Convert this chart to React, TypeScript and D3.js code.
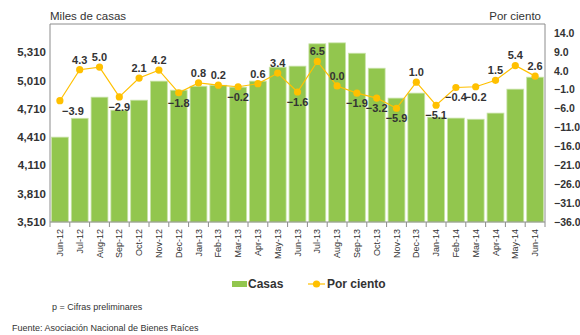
import React from "react";
import * as d3 from "d3";

// Monthly home sales (thousands) and month-over-month change (%)
const months = [
  "Jun-12", "Jul-12", "Aug-12", "Sep-12", "Oct-12", "Nov-12", "Dec-12",
  "Jan-13", "Feb-13", "Mar-13", "Apr-13", "May-13", "Jun-13", "Jul-13",
  "Aug-13", "Sep-13", "Oct-13", "Nov-13", "Dec-13", "Jan-14", "Feb-14",
  "Mar-14", "Apr-14", "May-14", "Jun-14",
];
const casas = [
  4410, 4610, 4834, 4696, 4802, 5004, 4908,
  4950, 4960, 4940, 5004, 5152, 5163, 5400,
  5410, 5300, 5141, 4824, 4877, 4622, 4612,
  4600, 4665, 4919, 5046,
];
const porCiento = [
  -3.9, 4.3, 5.0, -2.9, 2.1, 4.2, -1.8,
  0.8, 0.2, -0.2, 0.6, 3.4, -1.6, 6.5,
  0.0, -1.9, -3.2, -5.9, 1.0, -5.1, -0.4,
  -0.2, 1.5, 5.4, 2.6,
];
const leftTicks = [3510, 3810, 4110, 4410, 4710, 5010, 5310];
const rightTicks = [14, 9, 4, -1, -6, -11, -16, -21, -26, -31, -36];

const W = 580;
const H = 335;
const plot = { left: 50, right: 545, top: 24, bottom: 222 };
const FONT = "'Liberation Sans', Arial, Helvetica, sans-serif";
const BAR = "#92c64e";
const GOLD = "#ffc000";
const TEXT = "#333333";
const FRAME = "#8c8c8c";

export default function App() {
  const x = d3
    .scaleBand<string>()
    .domain(months)
    .range([plot.left, plot.right])
    .paddingInner(0.15)
    .paddingOuter(0.075);
  const yL = d3.scaleLinear().domain([3510, 5610]).range([plot.bottom, plot.top]);
  const yR = d3.scaleLinear().domain([-36, 16.4]).range([plot.bottom, plot.top]);
  const step = x.step();
  const half = step * 0.075;
  const cx = (m: string) => (x(m) as number) + x.bandwidth() / 2;

  const line = d3
    .line<number>()
    .x((_, i) => cx(months[i]))
    .y((d) => yR(d));

  const boundaries = months.map((m) => (x(m) as number) - half).concat([plot.right]);

  return (
    <svg
      width={W}
      height={H}
      style={{ position: "absolute", left: 0, top: 0, background: "#fff" }}
      fontFamily={FONT}
    >
      {/* bars */}
      {casas.map((v, i) => (
        <rect
          key={months[i]}
          x={x(months[i])}
          y={yL(v)}
          width={x.bandwidth()}
          height={plot.bottom - yL(v)}
          fill={BAR}
          stroke="#c9e3a8"
          strokeWidth={0.8}
        />
      ))}

      {/* frame */}
      <path
        d={`M${plot.left},${plot.bottom}V${plot.top}H${plot.right}V${plot.bottom}`}
        fill="none"
        stroke={FRAME}
        strokeWidth={1}
      />
      <line x1={plot.left} x2={plot.right} y1={plot.bottom} y2={plot.bottom} stroke={FRAME} />
      {boundaries.map((b, i) => (
        <line key={i} x1={b} x2={b} y1={plot.bottom} y2={plot.bottom + 5} stroke={FRAME} />
      ))}

      {/* left axis labels */}
      {leftTicks.map((t) => (
        <text
          key={t}
          x={46}
          y={yL(t)}
          dy="0.35em"
          textAnchor="end"
          fontSize={11.5}
          fontWeight="bold"
          fill={TEXT}
        >
          {d3.format(",")(t)}
        </text>
      ))}

      {/* right axis labels */}
      {rightTicks.map((t) => (
        <text
          key={t}
          x={554}
          y={yR(t)}
          dy="0.35em"
          textAnchor="start"
          fontSize={10.5}
          fontWeight="bold"
          fill={TEXT}
        >
          {d3.format(".1f")(t)}
        </text>
      ))}

      {/* axis titles */}
      <text x={50} y={20} fontSize={11.5} fill={TEXT}>
        Miles de casas
      </text>
      <text x={541} y={20} fontSize={11.5} fill={TEXT} textAnchor="end">
        Por ciento
      </text>

      {/* month labels */}
      {months.map((m) => (
        <text
          key={m}
          transform={`translate(${cx(m) + 3},${plot.bottom + 7}) rotate(-90)`}
          textAnchor="end"
          fontSize={9}
          fill={TEXT}
        >
          {m}
        </text>
      ))}

      {/* percent line */}
      <path d={line(porCiento) ?? ""} fill="none" stroke={GOLD} strokeWidth={1.2} />
      {porCiento.map((v, i) => (
        <circle key={months[i]} cx={cx(months[i])} cy={yR(v)} r={3.6} fill={GOLD} />
      ))}
      {porCiento.map((v, i) => {
        const below = v < 0;
        const dx = i === 0 ? 13 : 0;
        return (
          <text
            key={months[i]}
            x={cx(months[i]) + dx}
            y={yR(v) + (below ? 10 : -10)}
            dy="0.35em"
            textAnchor="middle"
            fontSize={11}
            fontWeight="bold"
            fill={TEXT}
          >
            {d3.format(".1f")(v)}
          </text>
        );
      })}

      {/* legend */}
      <rect x={232} y={281} width={15} height={6} fill={BAR} />
      <text x={248} y={288} fontSize={12} fontWeight="bold" fill={TEXT}>
        Casas
      </text>
      <line x1={308} x2={325} y1={284} y2={284} stroke={GOLD} strokeWidth={1.2} />
      <circle cx={316.5} cy={284} r={3.6} fill={GOLD} />
      <text x={327} y={288} fontSize={12} fontWeight="bold" fill={TEXT}>
        Por ciento
      </text>

      {/* notes */}
      <text x={52} y={310} fontSize={9} fill={TEXT}>
        p = Cifras preliminares
      </text>
      <text x={12} y={331} fontSize={9} fill={TEXT}>
        Fuente: Asociación Nacional de Bienes Raíces
      </text>
    </svg>
  );
}
